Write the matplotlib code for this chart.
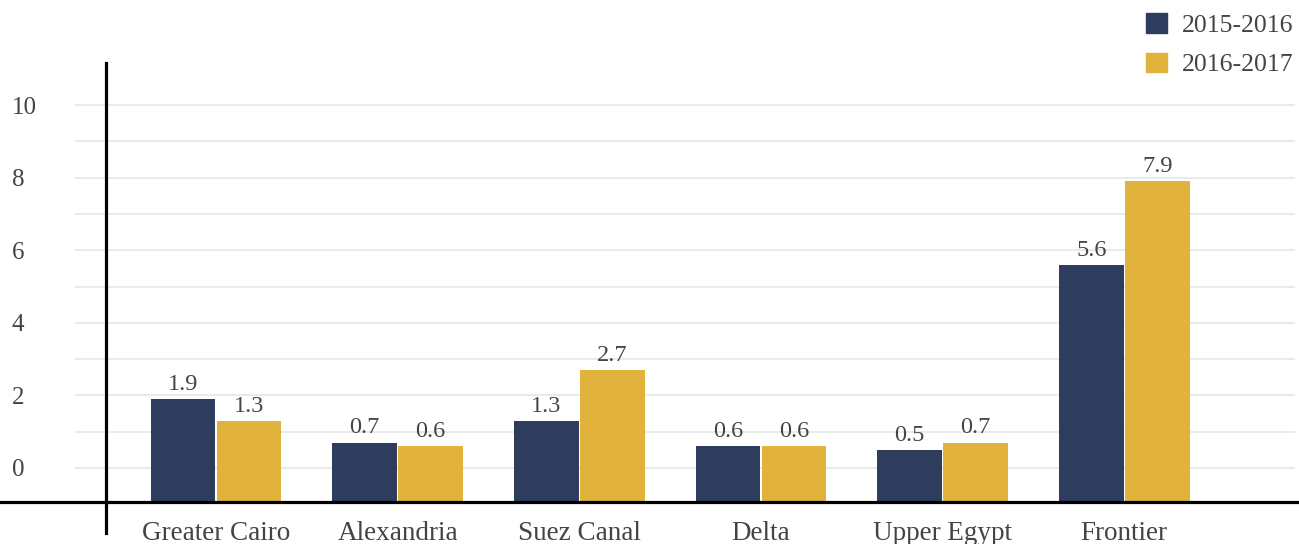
import matplotlib.pyplot as plt
from matplotlib.lines import Line2D
from matplotlib.patches import Patch
import numpy as np

regions = ["Greater Cairo", "Alexandria", "Suez Canal", "Delta", "Upper Egypt", "Frontier"]
values_2015 = [1.9, 0.7, 1.3, 0.6, 0.5, 5.6]
values_2016 = [1.3, 0.6, 2.7, 0.6, 0.7, 7.9]
series_names = ["2015-2016", "2016-2017"]
y_ticks = [0, 2, 4, 6, 8, 10]

navy = "#2e3d5e"
gold = "#e2b33c"
text_col = "#444444"

W, H = 1299, 544
plt.rcParams["font.family"] = ["Liberation Serif", "DejaVu Serif"]

fig = plt.figure(figsize=(W / 100, H / 100), dpi=100)
# axes box in pixels: x 75..1295, y 63..502 (from top)
ax = fig.add_axes([75 / W, (H - 502) / H, 1220 / W, (502 - 63) / H])

ymin, ymax = -0.937, 11.16
ax.set_ylim(ymin, ymax)
ax.set_xlim(-0.776, 5.94)

x = np.arange(len(regions))
bw = 0.356
off = 0.1815
b1 = ax.bar(x - off, np.array(values_2015) - ymin, bw, bottom=ymin, color=navy, zorder=3)
b2 = ax.bar(x + off, np.array(values_2016) - ymin, bw, bottom=ymin, color=gold, zorder=3)

for bars, vals in ((b1, values_2015), (b2, values_2016)):
    for rect, v in zip(bars, vals):
        ax.annotate(f"{v:.1f}", (rect.get_x() + rect.get_width() / 2, v),
                    xytext=(0, 3), textcoords="offset points",
                    ha="center", va="bottom", fontsize=17.5, color=text_col, zorder=4)

# gridlines every unit, labels on even values
ax.set_yticks(y_ticks)
ax.set_yticks([1, 3, 5, 7, 9], minor=True)
ax.grid(axis="y", which="both", color="#e6e6e6", linewidth=1.2, zorder=0)
ax.tick_params(axis="y", which="both", length=0)
ax.tick_params(axis="y", pad=63 * 0.72, labelsize=18, labelcolor=text_col)
for lab in ax.get_yticklabels():
    lab.set_horizontalalignment("left")

ax.set_xticks(x)
ax.set_xticklabels(regions)
ax.tick_params(axis="x", length=0, pad=14, labelsize=19.5, labelcolor=text_col)

for s in ax.spines.values():
    s.set_visible(False)

# axis lines drawn across the figure
fig.add_artist(Line2D([0, 1], [(H - 502) / H] * 2, color="black", linewidth=2.3,
                      transform=fig.transFigure, zorder=5))
fig.add_artist(Line2D([106 / W] * 2, [(H - 63) / H, (H - 533) / H], color="black",
                      linewidth=2.3, transform=fig.transFigure, zorder=5))

handles = [Patch(color=navy), Patch(color=gold)]
fig.legend(handles, series_names, loc="upper right", bbox_to_anchor=(1.0 + 10 / W, 1.0 + 2 / H),
           frameon=False, fontsize=18.5, handlelength=0.8, handleheight=0.8,
           handletextpad=0.6, labelspacing=0.6, labelcolor=text_col,
           borderaxespad=0.2)

fig.savefig("out.png", dpi=100, facecolor="white")
